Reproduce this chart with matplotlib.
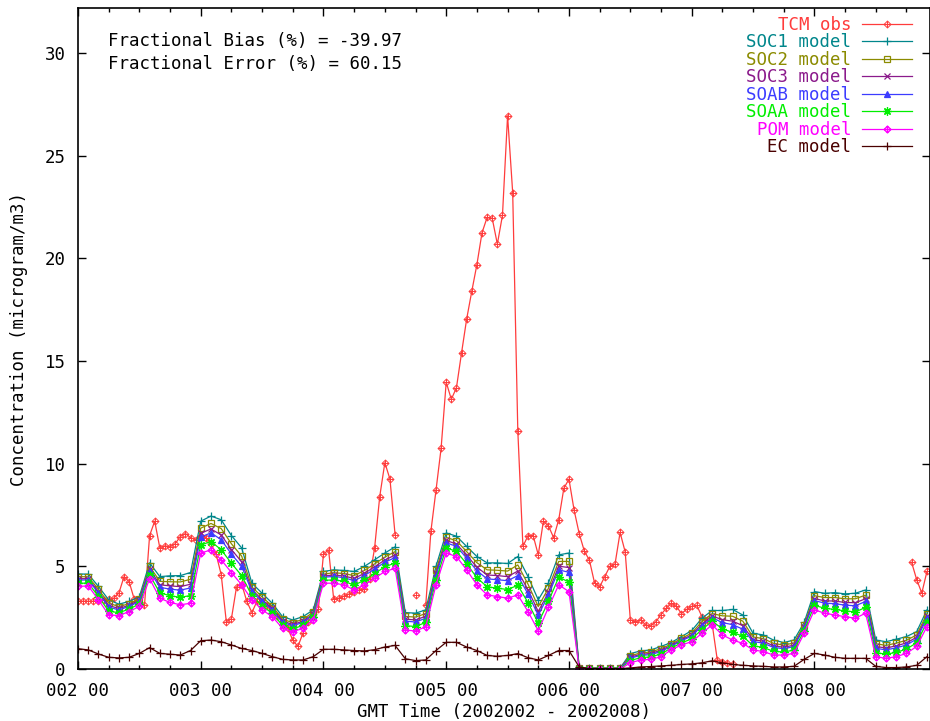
import numpy as np
import matplotlib
matplotlib.use("Agg")
import matplotlib.pyplot as plt
from matplotlib.path import Path
from matplotlib.ticker import MultipleLocator, FuncFormatter

nan = np.nan

# hourly observations, hour 0 = day 002 00
obs_hours = np.arange(0, 167)
tcm_obs = [
    3.3, 3.3, 3.3, 3.3, 3.3,  3.35, 3.4, 3.45, 3.7, 4.5,
    4.25, 3.4, 3.05, 3.1, 6.5,  7.2, 5.9, 6.0, 5.95, 6.1,
    6.45, 6.6, 6.4, 6.3, 6.5,  6.4, 6.1, 5.6, 4.6, 2.3,
    2.45, 4.0, 4.15, 3.3, 2.75,  3.3, 3.2, 3.1, 2.9, 2.6,
    2.3, 2.0, 1.4, 1.1, 1.75,  2.3, 2.7, 2.9, 5.6, 5.8,
    3.4, 3.45, 3.55, 3.65, 3.75,  3.85, 3.9, 4.4, 5.9, 8.4,
    10.05, 9.25, 6.55, nan, nan,  nan, 3.6, nan, 3.1, 6.7,
    8.7, 10.75, 13.97, 13.14, 13.7,  15.4, 17.05, 18.4, 19.7, 21.25,
    22.0, 21.95, 20.7, 22.1, 26.95,  23.2, 11.6, 5.97, 6.5, 6.5,
    5.56, 7.2, 6.97, 6.4, 7.27,  8.8, 9.25, 7.75, 6.6, 5.75,
    5.3, 4.2, 4.0, 4.5, 5.0,  5.1, 6.65, 5.7, 2.4, 2.3,
    2.4, 2.15, 2.1, 2.3, 2.65,  2.95, 3.2, 3.05, 2.7, 2.9,
    3.05, 3.1, 2.55, 2.4, 2.2,  0.45, 0.35, 0.3, 0.25, nan,
] + [nan] * 32 + [nan, 5.2, 4.35, 3.7, 4.75]

# model output every 2 hours
model_hours = np.arange(0, 167, 2)
soc1 = [
    4.63, 4.62, 4.02, 3.37, 3.16, 3.29, 3.53, 5.17, 4.50, 4.54,
    4.55, 4.70, 7.20, 7.45, 7.27, 6.50, 5.90, 4.18, 3.69, 3.20,
    2.55, 2.39, 2.55, 2.88, 4.75, 4.83, 4.80, 4.75, 5.00, 5.32,
    5.65, 5.95, 2.75, 2.72, 2.88, 5.00, 6.63, 6.47, 5.97, 5.48,
    5.17, 5.17, 5.14, 5.48, 4.50, 3.37, 4.20, 5.56, 5.65, 0.08,
    0.05, 0.05, 0.05, 0.05, 0.75, 0.88, 0.93, 1.10, 1.29, 1.58,
    1.87, 2.47, 2.85, 2.85, 2.90, 2.63, 1.74, 1.66, 1.41, 1.29,
    1.41, 2.27, 3.77, 3.69, 3.72, 3.66, 3.69, 3.85, 1.41, 1.33,
    1.45, 1.58, 1.82, 2.88,
]
soc2 = [
    4.50, 4.49, 3.88, 3.21, 3.04, 3.18, 3.42, 5.00, 4.27, 4.25,
    4.24, 4.37, 6.86, 7.09, 6.84, 6.10, 5.50, 4.00, 3.51, 3.06,
    2.42, 2.26, 2.42, 2.77, 4.62, 4.69, 4.65, 4.55, 4.80, 5.12,
    5.45, 5.72, 2.56, 2.53, 2.70, 4.80, 6.41, 6.25, 5.72, 5.18,
    4.83, 4.81, 4.77, 5.07, 4.13, 3.04, 3.94, 5.24, 5.24, 0.07,
    0.04, 0.04, 0.04, 0.04, 0.65, 0.78, 0.83, 0.99, 1.21, 1.49,
    1.75, 2.31, 2.70, 2.59, 2.57, 2.33, 1.56, 1.48, 1.25, 1.16,
    1.27, 2.15, 3.57, 3.48, 3.48, 3.42, 3.42, 3.60, 1.23, 1.15,
    1.26, 1.40, 1.66, 2.70,
]
soc3 = [
    4.40, 4.40, 3.77, 3.09, 2.95, 3.10, 3.35, 4.88, 4.10, 4.05,
    4.01, 4.13, 6.61, 6.82, 6.53, 5.82, 5.22, 3.87, 3.38, 2.95,
    2.33, 2.17, 2.33, 2.69, 4.53, 4.58, 4.53, 4.41, 4.66, 4.98,
    5.31, 5.55, 2.43, 2.39, 2.57, 4.66, 6.26, 6.09, 5.54, 4.96,
    4.58, 4.55, 4.50, 4.77, 3.85, 2.80, 3.74, 5.01, 4.94, 0.05,
    0.03, 0.03, 0.03, 0.03, 0.58, 0.71, 0.76, 0.91, 1.15, 1.42,
    1.66, 2.19, 2.58, 2.40, 2.33, 2.11, 1.43, 1.35, 1.13, 1.06,
    1.16, 2.07, 3.43, 3.32, 3.31, 3.24, 3.23, 3.42, 1.10, 1.02,
    1.13, 1.27, 1.55, 2.57,
]
soab = [
    4.33, 4.34, 3.70, 3.01, 2.88, 3.05, 3.29, 4.79, 3.98, 3.89,
    3.84, 3.95, 6.43, 6.63, 6.30, 5.60, 5.00, 3.78, 3.29, 2.88,
    2.27, 2.11, 2.27, 2.64, 4.47, 4.51, 4.45, 4.30, 4.55, 4.87,
    5.20, 5.43, 2.33, 2.29, 2.47, 4.55, 6.14, 5.98, 5.40, 4.79,
    4.39, 4.35, 4.30, 4.55, 3.65, 2.62, 3.60, 4.83, 4.71, 0.04,
    0.02, 0.02, 0.02, 0.02, 0.53, 0.66, 0.70, 0.85, 1.11, 1.38,
    1.60, 2.11, 2.50, 2.26, 2.16, 1.94, 1.34, 1.26, 1.05, 0.99,
    1.09, 2.01, 3.33, 3.21, 3.18, 3.11, 3.08, 3.29, 1.01, 0.93,
    1.03, 1.17, 1.46, 2.47,
]
soaa = [
    4.17, 4.19, 3.53, 2.82, 2.74, 2.92, 3.17, 4.59, 3.71, 3.57,
    3.49, 3.58, 6.04, 6.21, 5.81, 5.15, 4.55, 3.57, 3.08, 2.71,
    2.12, 1.96, 2.12, 2.51, 4.32, 4.34, 4.28, 4.08, 4.33, 4.65,
    4.98, 5.16, 2.11, 2.07, 2.27, 4.33, 5.90, 5.73, 5.12, 4.45,
    4.00, 3.94, 3.87, 4.08, 3.23, 2.24, 3.30, 4.47, 4.24, 0.02,
    0.01, 0.01, 0.01, 0.01, 0.41, 0.55, 0.59, 0.73, 1.02, 1.27,
    1.47, 1.92, 2.33, 1.96, 1.78, 1.60, 1.13, 1.05, 0.86, 0.83,
    0.92, 1.87, 3.10, 2.96, 2.90, 2.83, 2.78, 3.00, 0.80, 0.72,
    0.81, 0.97, 1.28, 2.27,
]
pom = [
    4.02, 4.05, 3.37, 2.64, 2.60, 2.80, 3.05, 4.40, 3.45, 3.24,
    3.13, 3.20, 5.65, 5.80, 5.32, 4.70, 4.10, 3.37, 2.88, 2.55,
    1.98, 1.82, 1.98, 2.39, 4.18, 4.18, 4.10, 3.85, 4.10, 4.42,
    4.75, 4.90, 1.90, 1.85, 2.06, 4.10, 5.65, 5.48, 4.83, 4.10,
    3.61, 3.53, 3.45, 3.61, 2.80, 1.86, 3.00, 4.10, 3.77, 0.00,
    0.00, 0.00, 0.00, 0.00, 0.30, 0.44, 0.47, 0.60, 0.93, 1.17,
    1.33, 1.74, 2.15, 1.66, 1.41, 1.25, 0.93, 0.85, 0.68, 0.68,
    0.76, 1.74, 2.88, 2.72, 2.63, 2.55, 2.47, 2.72, 0.60, 0.52,
    0.60, 0.76, 1.10, 2.06,
]
ec = [
    0.99, 0.93, 0.73, 0.57, 0.54, 0.57, 0.76, 1.04, 0.76, 0.72,
    0.68, 0.90, 1.38, 1.41, 1.33, 1.17, 1.00, 0.90, 0.76, 0.60,
    0.47, 0.44, 0.44, 0.60, 0.96, 0.96, 0.93, 0.90, 0.88, 0.94,
    1.07, 1.15, 0.50, 0.41, 0.44, 0.90, 1.30, 1.30, 1.07, 0.90,
    0.66, 0.62, 0.66, 0.75, 0.55, 0.44, 0.66, 0.90, 0.90, 0.10,
    0.02, 0.02, 0.02, 0.02, 0.05, 0.10, 0.12, 0.15, 0.18, 0.22,
    0.25, 0.30, 0.40, 0.30, 0.22, 0.18, 0.15, 0.13, 0.10, 0.10,
    0.13, 0.47, 0.76, 0.68, 0.57, 0.52, 0.52, 0.52, 0.13, 0.07,
    0.07, 0.10, 0.18, 0.60,
]

bias_text = "Fractional Bias (%) = -39.97"
error_text = "Fractional Error (%) = 60.15"

# diamond with a plus inside (gnuplot style point)
dia_plus = Path(
    [(0, 1), (1, 0), (0, -1), (-1, 0), (0, 1), (0, 1), (0, -1), (-1, 0), (1, 0)],
    [Path.MOVETO, Path.LINETO, Path.LINETO, Path.LINETO, Path.CLOSEPOLY,
     Path.MOVETO, Path.LINETO, Path.MOVETO, Path.LINETO],
)

plt.rcParams["font.family"] = "DejaVu Sans Mono"
fs = 12.5

fig = plt.figure(figsize=(9.3, 7.21), dpi=100)
ax = fig.add_axes([78 / 930, 52 / 721, 852 / 930, 661 / 721])

obs_days = 2 + obs_hours / 24
mod_days = 2 + model_hours / 24

ax.plot(obs_days, tcm_obs, color="#ff3c3c", lw=0.9, marker=dia_plus, ms=5,
        mfc="none", mew=0.7, label="TCM obs")
series = [
    (soc1, "#00868b", "+", 6, "SOC1 model"),
    (soc2, "#8b8b00", "s", 4.5, "SOC2 model"),
    (soc3, "#8b1a8b", "x", 4.5, "SOC3 model"),
    (soab, "#3c3cff", "^", 4.5, "SOAB model"),
    (soaa, "#00ee00", (8, 2, 0), 6, "SOAA model"),
    (pom, "#ff00ff", dia_plus, 5, "POM model"),
    (ec, "#4a0000", "+", 6, "EC model"),
]
for vals, col, mk, ms, lab in series:
    mfc = "none" if mk in ("s", dia_plus) else col
    ax.plot(mod_days, vals, color=col, lw=0.9, marker=mk, ms=ms, mfc=mfc,
            mew=0.9, label=lab)

ax.set_xlim(2, 2 + 166.6 / 24)
ax.set_ylim(0, 32.2)
ax.xaxis.set_major_locator(MultipleLocator(1))
ax.xaxis.set_minor_locator(MultipleLocator(0.25))
ax.xaxis.set_major_formatter(FuncFormatter(lambda v, p: f"{int(round(v)):03d} 00"))
ax.yaxis.set_major_locator(MultipleLocator(5))
ax.tick_params(which="both", direction="in", top=True, right=True, width=1,
               labelsize=fs, pad=9)
ax.tick_params(which="major", length=6)
ax.tick_params(which="minor", length=3)
for s in ax.spines.values():
    s.set_linewidth(1.2)

ax.set_xlabel("GMT Time (2002002 - 2002008)", fontsize=fs, labelpad=2.5)
ax.set_ylabel("Concentration (microgram/m3)", fontsize=fs, labelpad=12)

ax.text(0.035, 0.950, bias_text, transform=ax.transAxes, fontsize=fs, va="center")
ax.text(0.035, 0.915, error_text, transform=ax.transAxes, fontsize=fs, va="center")

ax.legend(loc="upper right", bbox_to_anchor=(1 - 10 / 852, 1.0),
          markerfirst=False, frameon=False,
          labelcolor="linecolor", handlelength=2.9, numpoints=1, fontsize=fs,
          labelspacing=-0.03, handletextpad=0.6, borderaxespad=0.0,
          borderpad=0.45)

fig.savefig("out.png", dpi=100)
